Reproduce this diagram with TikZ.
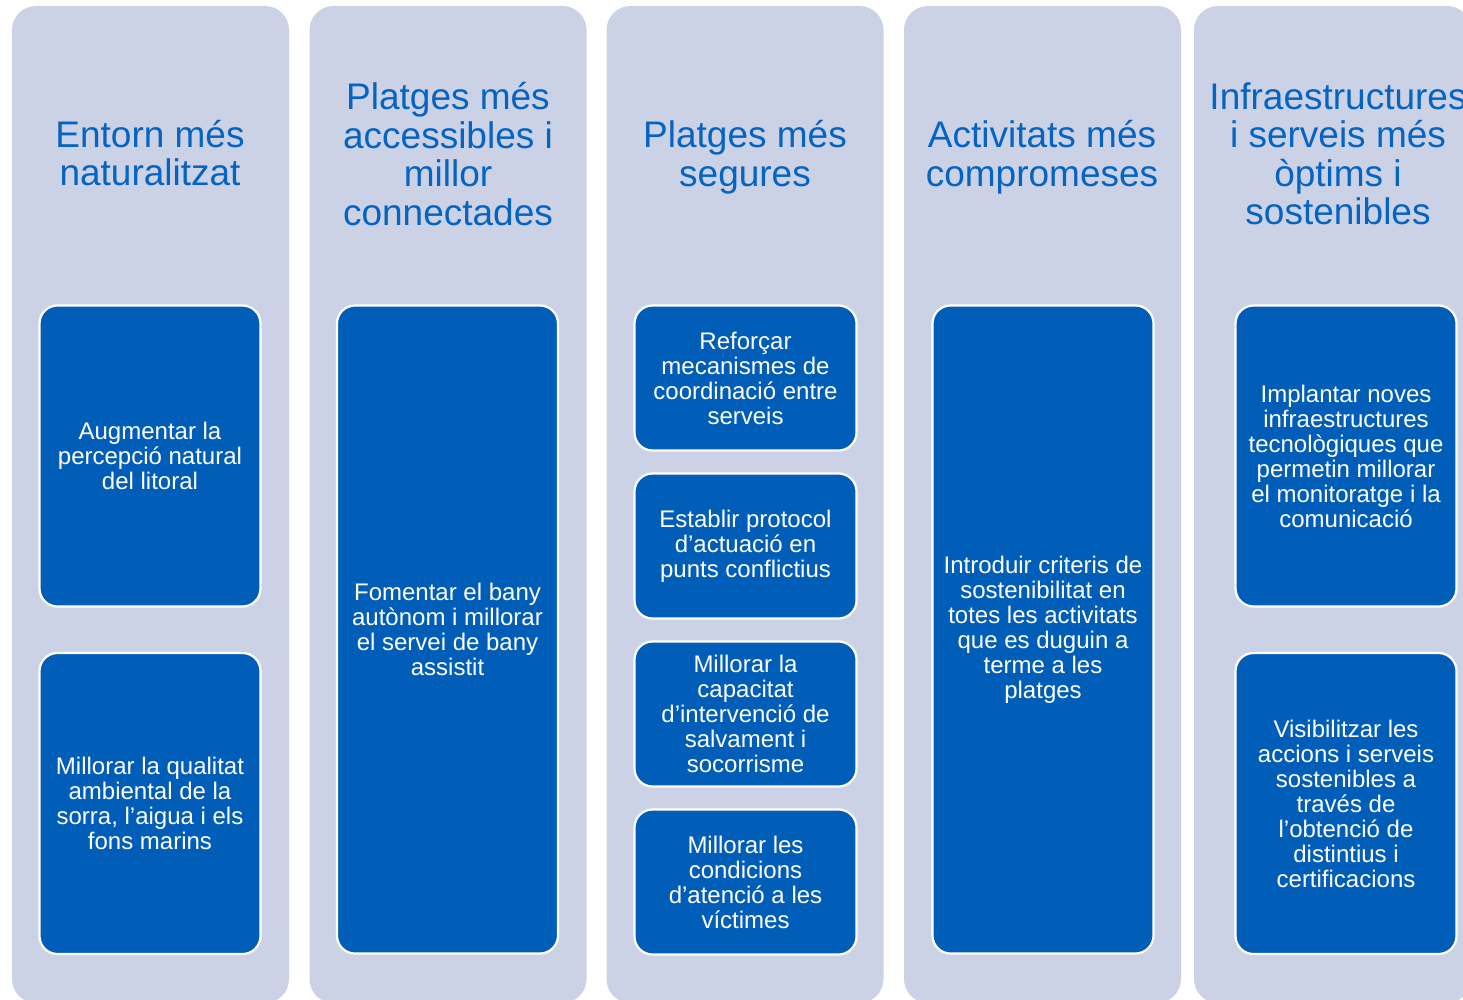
\documentclass[tikz,border=0pt]{standalone}
\usepackage{fontspec}
\setmainfont{Liberation Sans}
\definecolor{colbg}{RGB}{204,210,229}
\definecolor{boxbg}{RGB}{0,94,184}
\definecolor{titleblue}{RGB}{5,99,193}
\begin{document}
\begin{tikzpicture}[x=1pt,y=-1pt,
  colbox/.style={fill=colbg, draw=none, rounded corners=24pt, minimum width=277pt, minimum height=997pt, inner sep=0pt},
  coltitle/.style={text=titleblue, align=center, font=\fontsize{37}{38.5}\selectfont, inner sep=0pt},
  inbox/.style={fill=boxbg, draw=white, line width=2.2pt, rounded corners=18pt, text=white, align=center,
    font=\fontsize{24}{25}\selectfont, minimum width=221pt, inner sep=0pt}]
\useasboundingbox (0,0) rectangle (1463,1000);
\begin{scope}
\clip (0,0) rectangle (1463,1000);
% columns
\node[colbox] (c1) at (150.5,504.5) {};
\node[colbox] (c2) at (448,504.5) {};
\node[colbox] (c3) at (745,504.5) {};
\node[colbox] (c4) at (1042.5,504.5) {};
\node[colbox] (c5) at (1332.5,504.5) {};
% titles
\node[coltitle] (t1) at (150,153) {Entorn més\\naturalitzat};
\node[coltitle] (t2) at (448,154) {Platges més\\accessibles i\\millor\\connectades};
\node[coltitle] (t3) at (745,157) {Platges més\\segures};
\node[coltitle] (t4) at (1042,157) {Activitats més\\compromeses};
\node[coltitle] (t5) at (1338,154) {Infraestructures\\i serveis més\\òptims i\\sostenibles};
% column 1
\node[inbox, minimum height=301pt] (b11) at (150,456) {Augmentar la\\percepció natural\\del litoral};
\node[inbox, minimum height=301pt] (b12) at (150,803.5) {Millorar la qualitat\\ambiental de la\\sorra, l’aigua i els\\fons marins};
% column 2
\node[inbox, minimum height=648pt] (b21) at (447.5,629.5) {Fomentar el bany\\autònom i millorar\\el servei de bany\\assistit};
% column 3
\node[inbox, minimum width=222pt, minimum height=145pt] (b31) at (745.5,378) {Reforçar\\mecanismes de\\coordinació entre\\serveis};
\node[inbox, minimum width=222pt, minimum height=145pt] (b32) at (745.5,546) {Establir protocol\\d’actuació en\\punts conflictius};
\node[inbox, minimum width=222pt, minimum height=145pt] (b33) at (745.5,714) {Millorar la\\capacitat\\d’intervenció de\\salvament i\\socorrisme};
\node[inbox, minimum width=222pt, minimum height=145pt] (b34) at (745.5,882) {Millorar les\\condicions\\d’atenció a les\\víctimes};
% column 4
\node[inbox, minimum height=648pt] (b41) at (1043,629.5) {Introduir criteris de\\sostenibilitat en\\totes les activitats\\que es duguin a\\terme a les\\platges};
% column 5
\node[inbox, minimum height=301pt] (b51) at (1346,456) {Implantar noves\\infraestructures\\tecnològiques que\\permetin millorar\\el monitoratge i la\\comunicació};
\node[inbox, minimum height=301pt] (b52) at (1346,803.5) {Visibilitzar les\\accions i serveis\\sostenibles a\\través de\\l’obtenció de\\distintius i\\certificacions};
\end{scope}
\end{tikzpicture}
\end{document}
